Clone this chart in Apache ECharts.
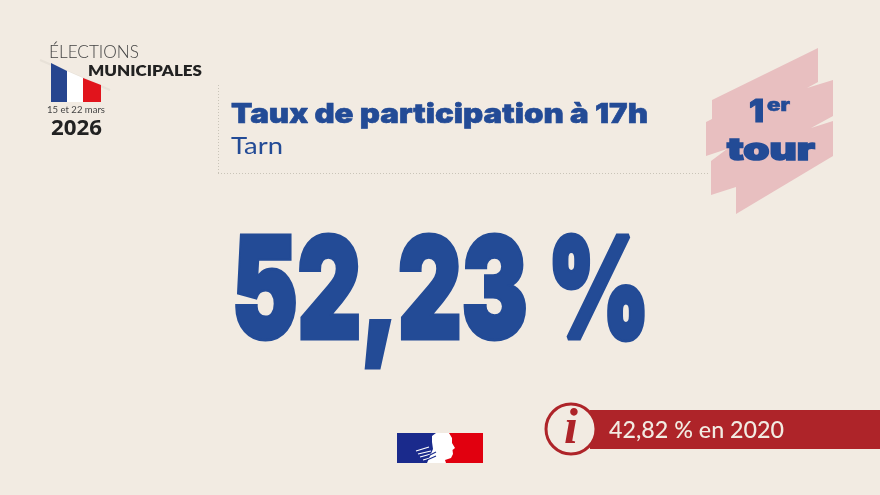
<!DOCTYPE html>
<html lang="fr">
<head>
  <meta charset="UTF-8">
  <title>Taux de participation à 17h</title>
  <script src="https://cdn.jsdelivr.net/npm/echarts@6/dist/echarts.min.js"></script>
</head>
<body style="margin: 0; background: #f2ebe2;">
<div id="main" style="width: 880px; height: 495px;"></div>
<script type="text/javascript">
  // valeurs
  const years = [2026, 2020]
  const participation = [52.23, 42.82]
  const dates = ['15 et 22 mars']
  const titles = ['Taux de participation à 17h', 'Tarn']
  const logoWords = ['ÉLECTIONS', 'MUNICIPALES']
  const roundWords = ['1', 'er', 'tour']

  const BLUE = '#234b96', RED = '#ae2429', BG = '#f2ebe2', PINK = '#e8bfc0', DARK = '#222222'

  const frNum = v => v.toFixed(2).replace('.', ',')
  const ctx = document.createElement('canvas').getContext('2d')

  // texte étiré pour tenir entre left et right, posé sur la ligne de base
  function fit(text, font, left, right, baseline, fill, stroke) {
    ctx.font = font
    ctx.textBaseline = 'middle'
    const w = ctx.measureText(text).width
    const toBase = ctx.measureText('H').actualBoundingBoxDescent
    return {
      type: 'text',
      x: left,
      y: baseline - toBase,
      scaleX: (right - left) / w,
      originX: 0,
      originY: 0,
      z: 10,
      style: {
        text, font, fill,
        x: 0, y: 0,
        textAlign: 'left',
        textVerticalAlign: 'middle',
        stroke: stroke ? fill : null,
        lineWidth: stroke || 0
      }
    }
  }
  const poly = (points, fill, z) => ({type: 'polygon', z: z || 0, shape: {points}, style: {fill}})
  const rect = (x, y, width, height, fill) => ({type: 'rect', shape: {x, y, width, height}, style: {fill}})
  const dotted = (x1, y1, x2, y2) => ({
    type: 'line',
    shape: {x1, y1, x2, y2},
    style: {stroke: '#c9c4b8', lineWidth: 1, lineDash: [1, 2]}
  })
  const streak = (x1, y1, x2, y2, color) => ({
    type: 'line',
    z: 5,
    shape: {x1, y1, x2, y2},
    style: {stroke: color || '#ffffff', lineWidth: 1.1}
  })

  const elements = [
    // drapeau
    {type: 'line', shape: {x1: 40, y1: 60, x2: 110, y2: 90}, style: {stroke: 'rgba(120,110,100,0.08)', lineWidth: 2}},
    poly([[51, 63], [67, 71], [67, 102], [51, 102]], '#26458f'),
    poly([[67, 71], [83, 78], [83, 102], [67, 102]], '#ffffff'),
    poly([[83, 78], [101, 85], [101, 102], [83, 102]], '#e1141c'),
    fit(logoWords[0], '300 18px Lato', 49, 139, 58, '#444444'),
    fit(logoWords[1], '800 15px Lato', 88, 202, 76, DARK),
    fit(dates[0], '400 10px Lato', 47, 105, 113, '#444444'),
    fit(String(years[0]), '700 21px "Noto Sans"', 51, 102, 135, DARK),

    // cadre pointillé
    dotted(218.5, 85, 218.5, 173),
    dotted(218, 173.5, 710, 173.5),

    // titre
    fit(titles[0], '900 27px Inter', 231, 648, 123, BLUE, 0.6),
    fit(titles[1], '400 24px Lato', 231, 283, 154, BLUE),

    // bandeau 1er tour
    poly([[712, 100], [818, 48], [818, 82], [807, 88], [833, 80], [833, 116], [811, 128], [833, 121], [833, 156],
      [736, 214], [736, 187], [711, 195], [711, 161], [727, 149], [706, 156], [706, 122], [712, 119]], PINK),
    fit(roundWords[0], '900 31px Inter', 749, 764, 122, BLUE, 1),
    fit(roundWords[1], '900 17px Inter', 767, 790, 111, BLUE, 0.5),
    fit(roundWords[2], '900 31px Inter', 727, 815, 160, BLUE, 1.5),

    // valeur principale
    fit(frNum(participation[0]) + ' %', '900 140px Inter', 232, 650, 338, BLUE, 5),

    // Marianne
    rect(397, 433, 48, 30, '#1a2a8c'),
    rect(445, 433, 38, 30, '#e1000f'),
    poly([[436, 433], [449, 433], [452, 438], [452, 443], [455, 448], [452.5, 450], [453, 454], [451, 458], [445, 460],
      [446, 463], [427, 463], [430, 456], [433, 449], [432, 442], [432, 436]], '#ffffff', 4),
    streak(416, 451, 429, 447),
    streak(418, 454, 431, 451),
    streak(420, 457, 431, 454),
    streak(423, 460, 430, 458),
    streak(428, 456, 436, 452, '#1a2a8c'),
    streak(427, 460, 436, 456, '#1a2a8c'),

    // rappel 2020
    rect(590, 410, 290, 39, RED),
    {type: 'circle', shape: {cx: 571, cy: 429, r: 25}, style: {fill: BG, stroke: RED, lineWidth: 3}, z: 6},
    {
      type: 'text', x: 571, y: 430, z: 7,
      style: {text: 'i', font: 'italic 700 50px "Liberation Serif"', fill: RED, textAlign: 'center', textVerticalAlign: 'middle'}
    },
    fit(frNum(participation[1]) + ' % en ' + years[1], '500 23px Lato', 609, 784, 438, BG)
  ]

  const myChart = echarts.init(document.getElementById('main'))
  myChart.setOption({
    backgroundColor: BG,
    animation: false,
    graphic: {elements}
  })
</script>
</body>
</html>
